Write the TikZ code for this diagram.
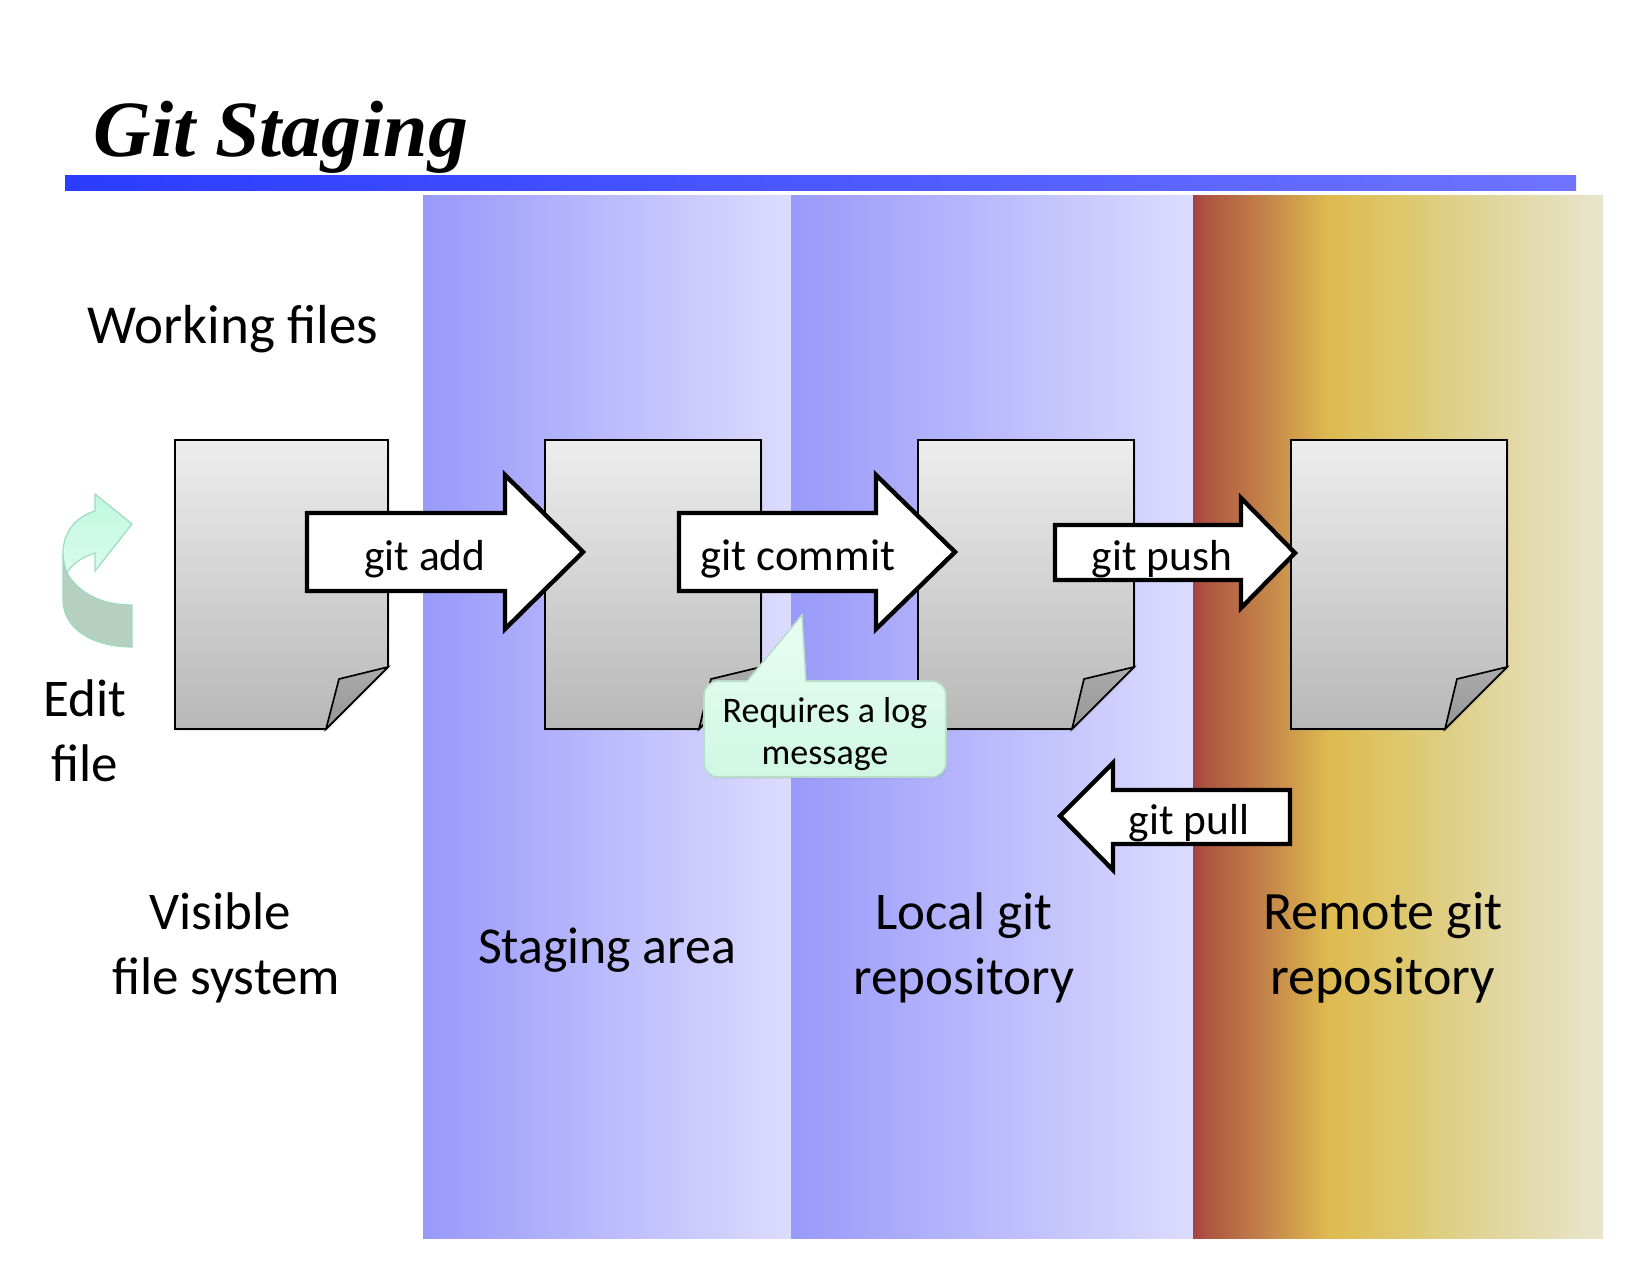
\documentclass[tikz,border=0pt]{standalone}
\usepackage{fontspec}
\setmainfont{Carlito}
\newfontfamily\titlefont{Liberation Serif}
\usetikzlibrary{shadows}
\definecolor{rulestart}{RGB}{42,60,255}
\definecolor{ruleend}{RGB}{110,116,255}
\definecolor{bandleft}{RGB}{153,153,250}
\definecolor{bandright}{RGB}{220,220,255}
\definecolor{mintline}{RGB}{155,220,190}
\definecolor{mintfold}{RGB}{181,207,192}
\definecolor{minthead}{RGB}{192,248,222}
\definecolor{mintneck}{RGB}{218,252,238}
\definecolor{notetop}{RGB}{232,253,244}
\definecolor{notebottom}{RGB}{208,247,228}
\definecolor{noteline}{RGB}{184,220,200}
\pgfdeclarehorizontalshading{remoteband}{100bp}{
  rgb(0bp)=(0.66,0.25,0.28); rgb(25bp)=(0.66,0.25,0.28); rgb(26.5bp)=(0.68,0.33,0.25);
  rgb(34bp)=(0.77,0.52,0.29); rgb(41.5bp)=(0.87,0.73,0.31); rgb(50bp)=(0.87,0.78,0.42);
  rgb(62bp)=(0.88,0.84,0.62); rgb(75bp)=(0.91,0.90,0.80); rgb(100bp)=(0.91,0.90,0.80)}
\tikzset{
  slidetext/.style={inner sep=0pt, font=\fontsize{26.5}{32.5}\selectfont, align=center},
  cmdtext/.style={inner sep=0pt, anchor=base, font=\fontsize{21.7}{28}\selectfont},
  cmdarrow/.style={draw=black, line width=2.2pt, fill=white, miter limit=10},
  docsheet/.style={draw=black, line width=0.85pt, top color=black!7, bottom color=black!28,
    drop shadow={shadow xshift=0.8pt, shadow yshift=-0.8pt, opacity=0.25}},
  docfold/.style={draw=black, line width=0.85pt, top color=black!33, bottom color=black!41},
  bandblue/.style={left color=bandleft, right color=bandright}
}
\begin{document}
\begin{tikzpicture}[x=0.5pt, y=-0.5pt]
    \useasboundingbox (0, 0) rectangle (1650, 1275);

    \fill[bandblue] (423, 195) rectangle (791, 1238);
    \fill[bandblue] (791, 195) rectangle (1193, 1238);
    \shade[shading=remoteband] (1193, 195) rectangle (1603, 1238);

    \node[inner sep=0pt, anchor=base west, font=\titlefont\bfseries\itshape\fontsize{39.9}{44}\selectfont] (slidetitle) at (93, 156) {Git Staging};
    \fill[left color=rulestart, right color=ruleend] (65, 175) rectangle (1576, 190);

    \draw[docsheet] (175, 440) -- (388, 440) -- (388, 667) -- (326, 729) -- (175, 729) -- cycle;
    \draw[docfold] (388, 667) -- (339, 679) -- (326, 729) -- cycle;

    \draw[docsheet] (545, 440) -- (761, 440) -- (761, 667) -- (699, 729) -- (545, 729) -- cycle;
    \draw[docfold] (761, 667) -- (711, 679) -- (699, 729) -- cycle;

    \draw[docsheet] (918, 440) -- (1134, 440) -- (1134, 667) -- (1072, 729) -- (918, 729) -- cycle;
    \draw[docfold] (1134, 667) -- (1084, 679) -- (1072, 729) -- cycle;

    \draw[docsheet] (1291, 440) -- (1507, 440) -- (1507, 667) -- (1445, 729) -- (1291, 729) -- cycle;
    \draw[docfold] (1507, 667) -- (1457, 679) -- (1445, 729) -- cycle;

    \draw[draw=mintline, line width=0.6pt, fill=mintfold]
        (63, 553) -- (63, 600) .. controls (63, 630) and (95, 647) .. (132, 647)
        -- (132, 605) .. controls (100, 605) and (78, 592) .. (67, 573) -- cycle;
    \draw[draw=mintline, line width=0.6pt, top color=minthead, bottom color=mintneck]
        (95, 511) .. controls (75, 517) and (63, 533) .. (63, 553)
        .. controls (63, 560) and (65, 567) .. (67, 573)
        .. controls (72, 564) and (82, 557) .. (95, 553)
        -- (95, 571) -- (132, 524) -- (95, 494) -- cycle;

    \draw[cmdarrow] (307, 513) -- (505, 513) -- (505, 475) -- (583, 552) -- (505, 629) -- (505, 591) -- (307, 591) -- cycle;
    \draw[cmdarrow] (679, 513) -- (876, 513) -- (876, 475) -- (955, 552) -- (876, 629) -- (876, 591) -- (679, 591) -- cycle;
    \draw[cmdarrow] (1055, 525) -- (1241, 525) -- (1241, 498) -- (1295, 553) -- (1241, 608) -- (1241, 580) -- (1055, 580) -- cycle;
    \draw[cmdarrow] (1290, 790) -- (1113, 790) -- (1113, 763) -- (1060, 816) -- (1113, 870) -- (1113, 844) -- (1290, 844) -- cycle;

    \node[cmdtext] (gitadd) at (425, 570) {git add};
    \node[cmdtext, font=\fontsize{22.3}{28}\selectfont] (gitcommit) at (798, 570) {git commit};
    \node[cmdtext] (gitpush) at (1162, 570) {git push};
    \node[cmdtext] (gitpull) at (1189, 834) {git pull};

    \draw[draw=noteline, line width=0.8pt, top color=notetop, bottom color=notebottom,
        drop shadow={shadow xshift=0.6pt, shadow yshift=-0.8pt, opacity=0.2}]
        (747, 681) -- (802, 615) -- (806, 681)
        [rounded corners=7pt] -- (946, 681) -- (946, 777) -- (704, 777) -- (704, 681) -- (747, 681);
    \node[inner sep=0pt, align=center, font=\fontsize{18}{21}\selectfont] (lognote) at (825, 734) {Requires a log\\message};

    \node[slidetext, font=\fontsize{27.5}{33}\selectfont] (workingfiles) at (233, 329) {Working files};
    \node[slidetext] (editfile) at (85, 731) {Edit\\file};
    \node[slidetext] (visiblefs) at (226, 948) {Visible\hspace*{6pt}\\file system};
    \node[slidetext, font=\fontsize{25.9}{33}\selectfont] (stagingarea) at (607, 950) {Staging area};
    \node[slidetext] (localrepo) at (964, 948) {Local git\\repository};
    \node[slidetext, font=\fontsize{27}{32.5}\selectfont] (remoterepo) at (1383, 948) {Remote git\\repository};
\end{tikzpicture}
\end{document}
